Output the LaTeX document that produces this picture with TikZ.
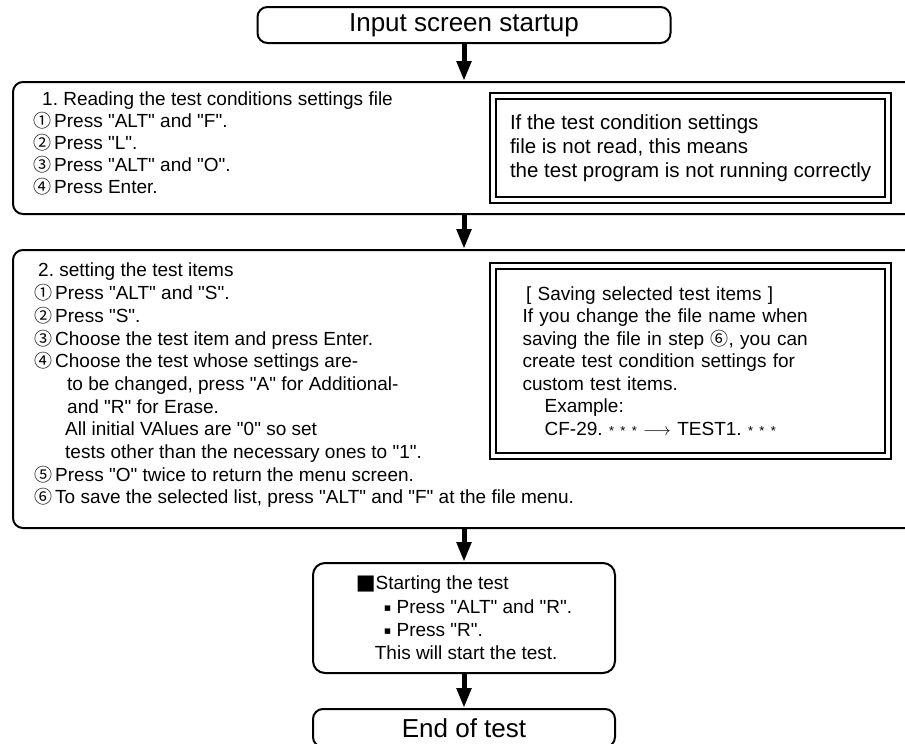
\documentclass[tikz,border=0pt]{standalone}
\usepackage{fontspec}
\setmainfont{Liberation Sans}[Ligatures=TeXOff]
\newfontfamily\symfont{DejaVu Sans}
\newfontfamily\jpfont{Noto Sans CJK JP}
\newcommand{\cnum}[1]{{\jpfont\fontsize{18}{18}\selectfont #1}}
\newcommand{\dotmark}{\raisebox{1.5pt}{\symfont\fontsize{11}{11}\selectfont ▪}}
\usetikzlibrary{arrows.meta}
\frenchspacing

\begin{document}
\begin{tikzpicture}[
  x = 1pt, y = -1pt,
  every node/.style = {inner sep = 0pt},
  flowbox/.style = {draw, line width = 2pt, rounded corners = 10pt},
  endbox/.style = {flowbox, minimum width = 413pt, minimum height = 36pt,
                   font = \fontsize{26}{28}\selectfont},
  stagebox/.style = {flowbox, anchor = north west, minimum width = 920pt},
  notebox/.style = {draw, line width = 2.2pt, double, double distance = 4.3pt,
                    anchor = north west, minimum width = 395pt, align = left},
  steps/.style = {anchor = north west, align = left},
  flow/.style = {line width = 5pt, -{Triangle[length = 20pt, width = 14pt]}},
  ]
  \path[use as bounding box, fill = white] (0,0) rectangle (905,744);

  \node[endbox] (startup) at (464,25) {Input screen startup};

  \node[stagebox, minimum height = 132pt] (reading) at (12,81) {};
  \node[steps, font = \fontsize{19}{22}\selectfont] (readsteps) at (33,92)
    {\hspace*{9pt}1. Reading the test conditions settings file\\
     \cnum{①}\hspace{3pt}Press "ALT" and "F".\\
     \cnum{②}\hspace{3pt}Press "L".\\
     \cnum{③}\hspace{3pt}Press "ALT" and "O".\\
     \cnum{④}\hspace{3pt}Press Enter.};
  \node[notebox, minimum height = 104pt, inner xsep = 10.5pt,
        font = \fontsize{20.5}{24}\selectfont] (readnote) at (492,95)
    {If the test condition settings\\
     file is not read, this means\\
     the test program is not running correctly};

  \node[stagebox, minimum height = 278pt] (planning) at (12,249) {};
  \node[steps, font = \fontsize{19}{22.7}\selectfont] (plansteps) at (34,263)
    {\hspace*{4pt}2. setting the test items\\
     \cnum{①}\hspace{3pt}Press "ALT" and "S".\\
     \cnum{②}\hspace{3pt}Press "S".\\
     \cnum{③}\hspace{3pt}Choose the test item and press Enter.\\
     \cnum{④}\hspace{3pt}Choose the test whose settings are-\\
     \hspace*{33pt}to be changed, press "A" for Additional-\\
     \hspace*{33pt}and "R" for Erase.\\
     \hspace*{31pt}All initial VAlues are "0" so set\\
     \hspace*{31pt}tests other than the necessary ones to "1".\\
     \cnum{⑤}\hspace{3pt}Press "O" twice to return the menu screen.\\
     \cnum{⑥}\hspace{3pt}To save the selected list, press "ALT" and "F" at the file menu.};
  \node[notebox, minimum height = 190pt, inner xsep = 29.5pt, text width = 336pt,
        font = \fontsize{19}{22.5}\selectfont] (plannote) at (492,265)
    {\hspace*{3.5pt}[ Saving selected test items ]\\
     If you change the file name when\\
     saving the file in step \cnum{⑥}, you can\\
     create test condition settings for\\
     custom test items.\\
     \hspace*{22pt}Example:\\
     \hspace*{22pt}CF-29. {\fontsize{13}{13}\selectfont * * *}
       {\fontsize{17}{17}\selectfont$\longrightarrow$} TEST1. {\fontsize{13}{13}\selectfont * * *}};

  \node[flowbox, rounded corners = 12pt, minimum width = 302pt, minimum height = 110pt,
        align = left, font = \fontsize{19}{23.3}\selectfont] (testing) at (464,618)
    {{\symfont\fontsize{21}{21}\selectfont ■}Starting the test\\
     \hspace*{28pt}\dotmark\ Press "ALT" and "R".\\
     \hspace*{28pt}\dotmark\ Press "R".\\
     \hspace*{19pt}This will start the test.};

  \node[endbox, minimum width = 302pt, minimum height = 38pt] (finish) at (464,728) {End of test};

  \draw[flow] (startup.south) -- (startup.south |- reading.north);
  \draw[flow] (startup.south |- reading.south) -- (startup.south |- planning.north);
  \draw[flow] (testing.north |- planning.south) -- (testing.north);
  \draw[flow] (testing.south) -- (finish.north);
\end{tikzpicture}
\end{document}
